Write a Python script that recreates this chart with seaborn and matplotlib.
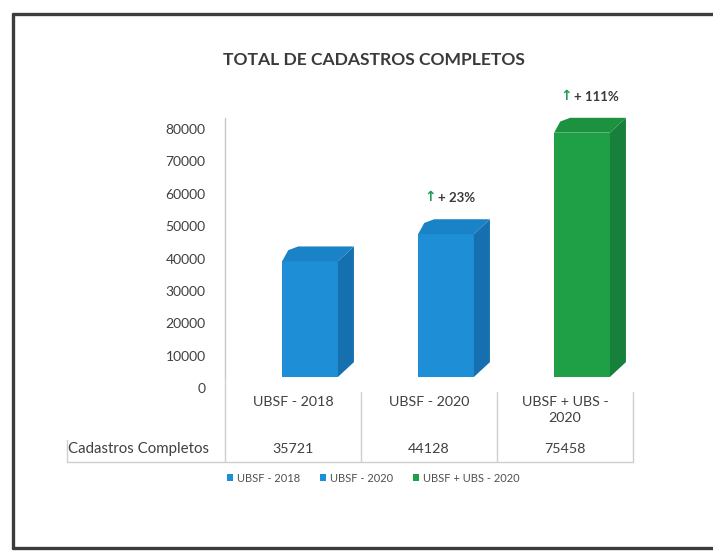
import textwrap

import matplotlib
matplotlib.use("Agg")
import matplotlib.pyplot as plt
from matplotlib.lines import Line2D
from matplotlib.patches import Polygon
from matplotlib.transforms import ScaledTranslation, blended_transform_factory
import pandas as pd
import seaborn as sns

# ---- data -------------------------------------------------------------
categories = ["UBSF - 2018", "UBSF - 2020", "UBSF + UBS - 2020"]
cadastros = [35721, 44128, 75458]
growth_labels = [None, "+ 23%", "+ 111%"]
row_label = "Cadastros Completos"
title = "TOTAL DE CADASTROS COMPLETOS"
y_ticks = [0, 10000, 20000, 30000, 40000, 50000, 60000, 70000, 80000]

front_colors = ["#1e8fd6", "#1e8fd6", "#1fa046"]
side_colors = ["#166fae", "#166fae", "#17803a"]
top_colors = ["#1a82c6", "#1a82c6", "#1c9241"]

df = pd.DataFrame({"categoria": categories, "cadastros": cadastros})

# ---- figure -----------------------------------------------------------
sns.set_theme(style="white")
plt.rcParams["font.family"] = ["Lato", "DejaVu Sans"]

W, H = 713, 551
fig = plt.figure(figsize=(W / 100, H / 100), dpi=100)
fig.patch.set_facecolor("white")


def fx(px):
    return px / W


def fy(py):
    return 1 - py / H


ax = fig.add_axes([fx(225), fy(377), fx(633) - fx(225), fy(118) - fy(377)])

sns.barplot(
    data=df, x="categoria", y="cadastros", hue="categoria",
    palette=dict(zip(categories, front_colors)), saturation=1,
    width=0.41, ax=ax, legend=True, linewidth=0,
)

ax.set_xlim(-0.5, 2.5)
ax.set_ylim(0, 80000)

# 3-D look: shift the front faces, then add a top face and a side face
shift = 0.125
depth_x = 0.118
depth_y = 4600
for patch, side_c, top_c in zip(ax.patches, side_colors, top_colors):
    x0 = patch.get_x() + shift
    patch.set_x(x0)
    x1 = x0 + patch.get_width()
    h = patch.get_height()
    bevel = 0.045
    side = Polygon([(x1, 0), (x1 + depth_x, depth_y), (x1 + depth_x, h + depth_y), (x1, h)],
                   closed=True, facecolor=side_c, edgecolor="none", clip_on=False, zorder=2)
    top = Polygon([(x0, h), (x0 + bevel, h + depth_y * 0.75), (x0 + depth_x, h + depth_y),
                   (x1 + depth_x, h + depth_y), (x1, h)],
                  closed=True, facecolor=top_c, edgecolor="none", clip_on=False, zorder=2)
    ax.add_patch(side)
    ax.add_patch(top)
    patch.set_clip_on(False)

# growth annotations above the bars
for patch, lab in zip(ax.patches[:3], growth_labels):
    if lab is None:
        continue
    xc = patch.get_x() + patch.get_width() / 2 - 0.06
    yt = patch.get_height() + depth_y
    ax.annotate(lab, xy=(xc, yt), xytext=(0, 11), textcoords="offset points",
                ha="left", va="bottom", fontsize=9.5, fontweight="bold",
                color="#3a3a3a", annotation_clip=False)
    ax.annotate("\u2191", xy=(xc, yt), xytext=(-1.5, 11), textcoords="offset points",
                ha="right", va="bottom", fontsize=10, fontweight="bold",
                color="#1f9a5a", annotation_clip=False, family="DejaVu Sans")

# axes styling
ax.set_yticks(y_ticks)
ax.set_yticklabels([str(v) for v in y_ticks])
ax.tick_params(axis="y", length=0, pad=14, labelsize=10, labelcolor="#404040")
ax.set_xticks([])
ax.set_xlabel("")
ax.set_ylabel("")
for s in ["top", "right", "bottom"]:
    ax.spines[s].set_visible(False)
ax.spines["left"].set_color("#c9c9c9")
ax.spines["left"].set_linewidth(1)
ax.grid(False)
off = ScaledTranslation(0, -11 / 100, fig.dpi_scale_trans)
for lbl in ax.get_yticklabels():
    lbl.set_transform(lbl.get_transform() + off)

# title
fig.text(fx(374), fy(60), title, ha="center", va="center",
         fontsize=12.6, fontweight="bold", color="#3a3a3a")

# data table under the axis
grid_c = "#cfcfcf"
tr = blended_transform_factory(ax.transData, fig.transFigure)
for i, (cat, val) in enumerate(zip(categories, cadastros)):
    ax.text(i, fy(396), textwrap.fill(cat, 12), transform=tr, ha="center", va="top",
            fontsize=10.3, color="#404040", linespacing=1.4)
    ax.text(i, fy(449), str(val), transform=tr, ha="center", va="center",
            fontsize=10.3, color="#404040")
fig.text(fx(68), fy(449), row_label, ha="left", va="center", fontsize=10.8, color="#404040")

for xb in [-0.5, 0.5, 1.5, 2.5]:
    top_px = 377 if xb == -0.5 else 392
    fig.add_artist(Line2D([xb, xb], [fy(top_px), fy(462)], transform=tr,
                          color=grid_c, lw=1))
fig.add_artist(Line2D([fx(67), fx(633)], [fy(462), fy(462)], color=grid_c, lw=1))
fig.add_artist(Line2D([fx(67), fx(67)], [fy(440), fy(462)], color=grid_c, lw=1))

# legend below the table
sns.move_legend(ax, "center", bbox_to_anchor=(fx(373), fy(478)),
                bbox_transform=fig.transFigure, ncol=3, frameon=False, title=None,
                fontsize=8, handlelength=0.6, handleheight=0.6, handletextpad=0.3,
                columnspacing=1.8)
for t in ax.get_legend().get_texts():
    t.set_color("#505050")

# outer frame
frame_c = "#3c3c3c"
fig.add_artist(Line2D([fx(13), 1], [fy(14), fy(14)], color=frame_c, lw=2.4))
fig.add_artist(Line2D([fx(13), fx(13)], [fy(14), fy(548)], color=frame_c, lw=2.4))
fig.add_artist(Line2D([fx(13), 1], [fy(548), fy(548)], color=frame_c, lw=2.4))

fig.savefig("out.png", dpi=100, facecolor="white")
